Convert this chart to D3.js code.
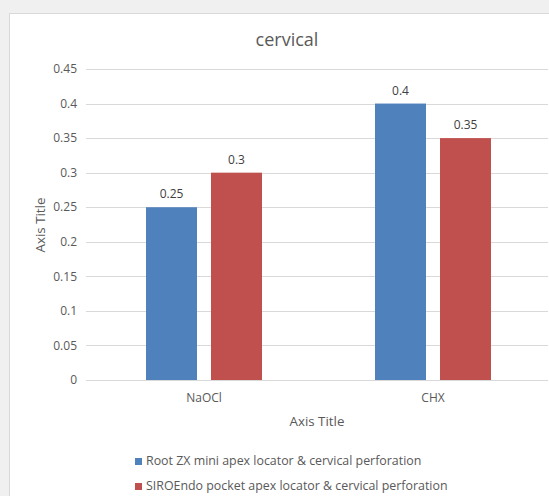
<!DOCTYPE html>
<html>
<head>
<meta charset="utf-8">
<script src="https://cdn.jsdelivr.net/npm/d3@7"></script>
<style>
  body { margin: 0; background: #f0f0f0; }
  svg { display: block; font-family: "Open Sans", "Noto Sans", sans-serif; }
</style>
</head>
<body>
<div id="chart"></div>
<script>
// data
var categories = ["NaOCl", "CHX"];
var seriesNames = [
  "Root ZX mini apex locator & cervical perforation",
  "SIROEndo pocket apex locator & cervical perforation"
];
var rootZX = [0.25, 0.4];
var siroEndo = [0.3, 0.35];
var yTicks = [0, 0.05, 0.1, 0.15, 0.2, 0.25, 0.3, 0.35, 0.4, 0.45];
var colors = ["#4f81bd", "#c0504d"];

var series = [rootZX, siroEndo];

var width = 549, height = 496;
var margin = { top: 69, right: 1, bottom: 116, left: 86 };
var innerW = width - margin.left - margin.right;
var innerH = height - margin.top - margin.bottom;

var svg = d3.select("#chart").append("svg")
  .attr("width", width)
  .attr("height", height);

// chart frame
svg.append("rect")
  .attr("x", 9.5).attr("y", 13.5)
  .attr("width", width).attr("height", height)
  .attr("fill", "#fff")
  .attr("stroke", "#d9d9d9");

var g = svg.append("g").attr("transform", "translate(" + margin.left + "," + margin.top + ")");

var y = d3.scaleLinear().domain([0, 0.45]).range([innerH, 0]);
var x0 = d3.scaleBand().domain(categories).range([3.5, 461.5]);

// gridlines
g.selectAll(".grid").data(yTicks).enter().append("line")
  .attr("x1", 0).attr("x2", innerW)
  .attr("y1", d => Math.round(y(d)) + 0.5).attr("y2", d => Math.round(y(d)) + 0.5)
  .attr("stroke", "#d9d9d9");

// y labels
g.selectAll(".ylab").data(yTicks).enter().append("text")
  .attr("x", -9).attr("y", d => y(d)).attr("dy", "0.35em")
  .attr("text-anchor", "end")
  .attr("font-size", 12).attr("fill", "#595959")
  .text(d => d);

// bars
var barW = 51, gap = 14;
series.forEach(function (vals, si) {
  var off = si === 0 ? -(gap / 2 + barW) : gap / 2;
  var grp = g.append("g");
  grp.selectAll("rect").data(vals).enter().append("rect")
    .attr("x", (d, i) => x0(categories[i]) + x0.bandwidth() / 2 + off)
    .attr("y", d => y(d))
    .attr("width", barW)
    .attr("height", d => innerH - y(d))
    .attr("fill", colors[si]);
  grp.selectAll("text").data(vals).enter().append("text")
    .attr("x", (d, i) => x0(categories[i]) + x0.bandwidth() / 2 + off + barW / 2)
    .attr("y", d => y(d) - 9)
    .attr("text-anchor", "middle")
    .attr("font-size", 12).attr("fill", "#404040")
    .text(d => d);
});

// x labels
g.selectAll(".xlab").data(categories).enter().append("text")
  .attr("x", d => x0(d) + x0.bandwidth() / 2)
  .attr("y", innerH + 22)
  .attr("text-anchor", "middle")
  .attr("font-size", 12).attr("fill", "#595959")
  .text(d => d);

// title
svg.append("text")
  .attr("x", 287).attr("y", 46)
  .attr("text-anchor", "middle")
  .attr("font-size", 18).attr("fill", "#595959")
  .text("cervical");

// axis titles
svg.append("text")
  .attr("x", margin.left + innerW / 2).attr("y", 426)
  .attr("text-anchor", "middle")
  .attr("font-size", 13.3).attr("fill", "#595959")
  .text("Axis Title");

svg.append("text")
  .attr("transform", "translate(45,225) rotate(-90)")
  .attr("text-anchor", "middle")
  .attr("font-size", 13.3).attr("fill", "#595959")
  .text("Axis Title");

// legend
var leg = svg.selectAll(".leg").data(seriesNames).enter().append("g")
  .attr("transform", (d, i) => "translate(135," + (461 + i * 25) + ")");
leg.append("rect")
  .attr("x", 0).attr("y", -3).attr("width", 7).attr("height", 7)
  .attr("fill", (d, i) => colors[i]);
leg.append("text")
  .attr("x", 11).attr("y", 0).attr("dy", "0.35em")
  .attr("font-size", 12.4).attr("fill", "#595959")
  .text(d => d);
</script>
</body>
</html>
